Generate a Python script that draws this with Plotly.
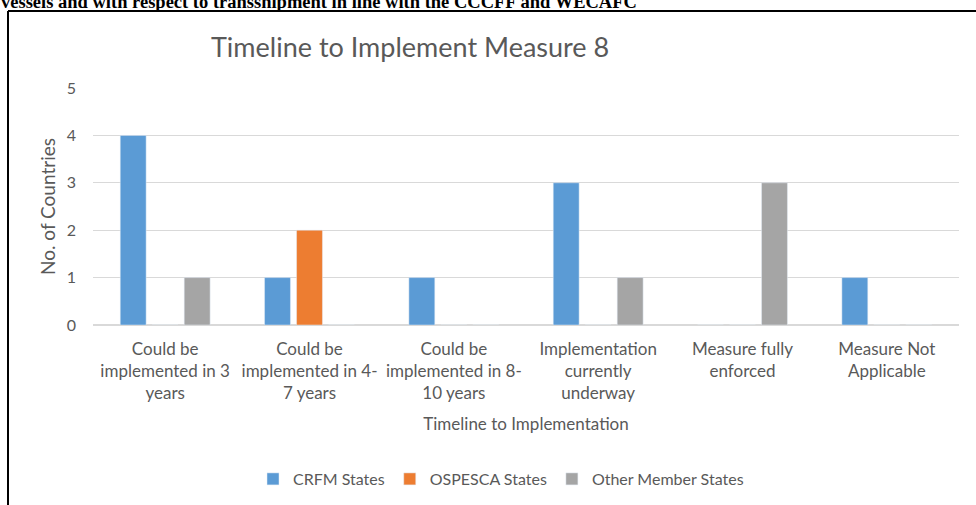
import plotly.graph_objects as go

categories = [
    "Could be<br>implemented in 3<br>years",
    "Could be<br>implemented in 4-<br>7 years",
    "Could be<br>implemented in 8-<br>10 years",
    "Implementation<br>currently<br>underway",
    "Measure fully<br>enforced",
    "Measure Not<br>Applicable",
]
crfm = [4, 1, 1, 3, 0, 1]
ospesca = [0, 2, 0, 0, 0, 0]
other = [1, 0, 0, 1, 3, 0]
y_ticks = [0, 1, 2, 3, 4, 5]

W, H = 976, 505
L, R, T, B = 93, 17, 88, 180
pw, ph = W - L - R, H - T - B

def px(x):
    return (x - L) / pw

def py(y):
    return (H - B - y) / ph

FONT = "Lato"
GRAY = "#595959"

fig = go.Figure()
fig.add_trace(go.Bar(name="CRFM States", x=categories, y=crfm, marker_color="#5B9BD5"))
fig.add_trace(go.Bar(name="OSPESCA States", x=categories, y=ospesca, marker_color="#ED7D31"))
fig.add_trace(go.Bar(name="Other Member States", x=categories, y=other, marker_color="#A5A5A5"))

fig.update_layout(
    width=W, height=H,
    margin=dict(l=L, r=R, t=T, b=B, pad=0, autoexpand=False),
    paper_bgcolor="white", plot_bgcolor="white",
    barmode="group", bargap=0.335, bargroupgap=0.19,
    font=dict(family=FONT, color=GRAY, size=15),
    showlegend=True,
    legend=dict(orientation="h", x=px(501), xanchor="center", y=py(479), yanchor="middle",
                font=dict(size=16, color=GRAY), traceorder="normal", itemwidth=30),
    xaxis=dict(tickfont=dict(size=17, color=GRAY), showgrid=False, showline=False, ticks="",
               automargin=False, ticklabelstandoff=12,
               title=dict(text="Timeline to Implementation", font=dict(size=17, color=GRAY), standoff=15)),
    yaxis=dict(range=[0, 5], tickvals=y_ticks, tickfont=dict(size=16, color=GRAY),
               showgrid=True, gridcolor="#D9D9D9", gridwidth=1.3, automargin=False,
               zeroline=True, zerolinecolor="#D9D9D9", zerolinewidth=1.5, ticks="", ticklabelstandoff=16,
               title=dict(text="No. of Countries", font=dict(size=19, color=GRAY), standoff=6)),
    annotations=[
        dict(text="Timeline to Implement Measure 8", x=px(410), y=py(47), xref="paper", yref="paper",
             xanchor="center", yanchor="middle", showarrow=False,
             font=dict(family=FONT, size=27, color=GRAY)),
        dict(text="<b>vessels and with respect to transshipment in line with the CCCFF and WECAFC</b>",
             x=px(-1), y=py(14), xref="paper", yref="paper", xanchor="left", yanchor="bottom",
             showarrow=False, font=dict(family="Liberation Serif", size=18.5, color="black")),
    ],
    shapes=[
        dict(type="line", xref="paper", yref="paper", x0=px(8), x1=px(8), y0=py(11), y1=py(520),
             line=dict(color="black", width=2)),
        dict(type="line", xref="paper", yref="paper", x0=px(8), x1=px(990), y0=py(11), y1=py(11),
             line=dict(color="black", width=2)),
    ],
)

fig.write_html("out.html", config={"displayModeBar": False},
               post_script="document.body.style.margin='0';")
